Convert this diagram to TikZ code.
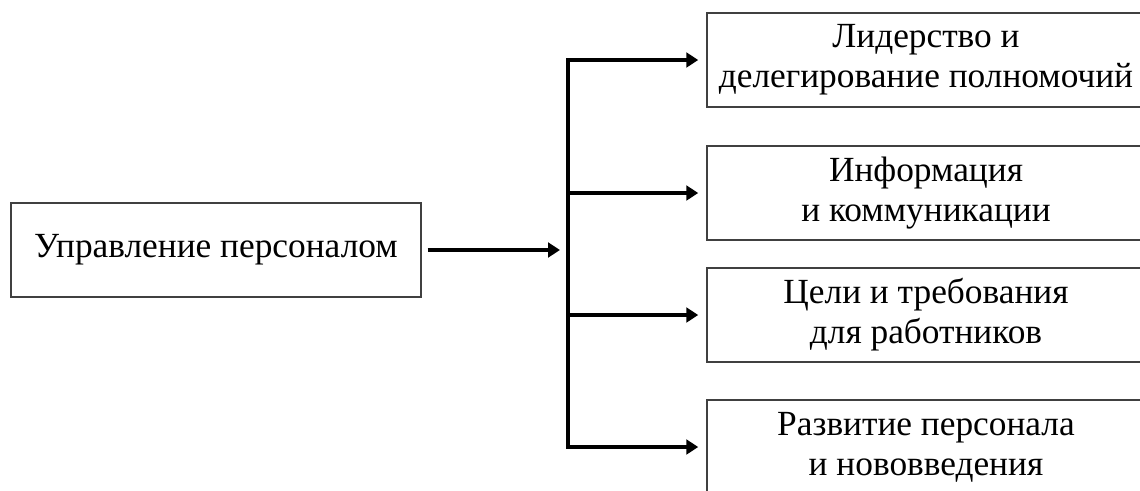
\documentclass[tikz,border=0pt]{standalone}
\usepackage{fontspec}
\setmainfont{Liberation Serif}
\usetikzlibrary{arrows.meta}

\tikzset{
  block/.style={draw=black!75, line width=1.1pt, align=center, inner sep=0pt,
    minimum height=70.5pt, font=\fontsize{26.5}{30}\selectfont},
  arr/.style={line width=2.3pt, -{Triangle[length=9pt,width=11pt]}},
}

\begin{document}
\begin{tikzpicture}[x=0.75pt,y=-0.75pt]
\useasboundingbox (0,0) rectangle (1140,490);
\clip (0,0) rectangle (1140,490);
\coordinate (bus) at (568,0);
% draws blocks
\node[block, minimum width=307.5pt] (upr) at (216,250) {Управление персоналом};
\node[block, minimum width=328.5pt] (lid) at (926,60) {Лидерство и\\делегирование полномочий};
\node[block, minimum width=328.5pt] (inf) at (926,193) {Информация\\и коммуникации};
\node[block, minimum width=328.5pt] (cel) at (926,315) {Цели и требования\\для работников};
\node[block, minimum width=328.5pt] (raz) at (926,447) {Развитие персонала\\и нововведения};
% draws connectors
\draw[line width=3pt, line cap=rect] (bus |- lid.west) -- (bus |- raz.west);
\draw[arr, shorten <=4.5pt, shorten >=6pt] (upr.east) -- (upr.east -| bus);
\draw[arr, shorten >=6pt] (bus |- lid.west) -- (lid.west);
\draw[arr, shorten >=6pt] (bus |- inf.west) -- (inf.west);
\draw[arr, shorten >=6pt] (bus |- cel.west) -- (cel.west);
\draw[arr, shorten >=6pt] (bus |- raz.west) -- (raz.west);
\end{tikzpicture}
\end{document}
